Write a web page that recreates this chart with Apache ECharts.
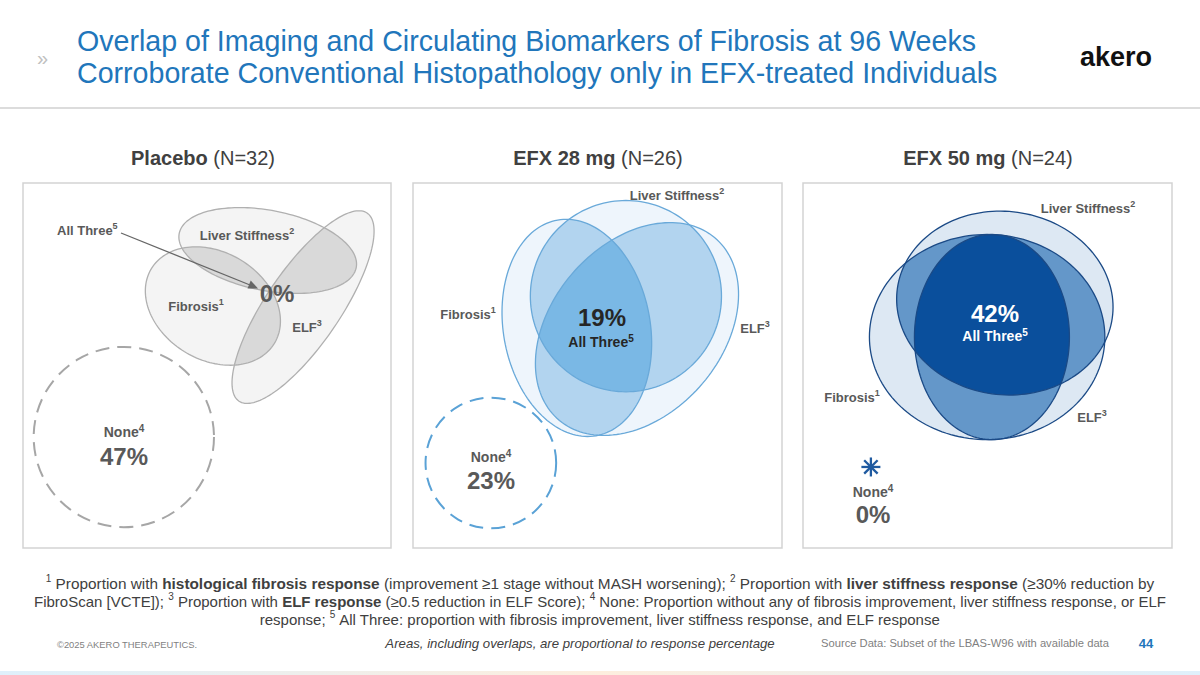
<!DOCTYPE html>
<html><head><meta charset="utf-8">
<script src="https://cdn.jsdelivr.net/npm/echarts/dist/echarts.min.js"></script>
<style>html,body{margin:0;padding:0;background:#fff}#c{width:1200px;height:675px}</style>
</head><body><div id="c"></div>
<script>
// ---------- data ----------
const categories = ['Placebo', 'EFX 28 mg', 'EFX 50 mg'];
const sampleN = [32, 26, 24];
const allThreePct = [0, 19, 42];
const nonePct = [47, 23, 0];
const setLabels = ['Fibrosis', 'Liver Stiffness', 'ELF'];
const setNotes = ['1', '2', '3'];

// ---------- ellipse layout per panel (panel units 0-100): [cx, cy, semiA, semiB, rotationDeg] ----------
const fibrosisShape  = [[51.6, 66.3, 19.6, 14.7, -32], [44.4, 60.3, 19.9, 30.0, 10], [49.9, 57.8, 31.9, 28.1, 0]];
const stiffnessShape = [[66.5, 81.5, 24.5, 11.0, -11], [57.7, 69.0, 25.9, 26.2, 0],  [54.7, 67.1, 29.4, 25.1, -8]];
const elfShape       = [[76.1, 66.0, 31.1, 10.1, 56],  [60.7, 60.0, 32.7, 23.2, 50], [51.2, 57.8, 21.0, 28.1, 0]];
const noneShape      = [[27.4, 30.4, 24.5], [21.1, 23.3, 17.7], [18.4, 22.2, 0]];

const FONT = '"Liberation Sans", Arial, sans-serif';
const palette = {
  single: ['#f4f4f4', '#eef5fc', '#dde8f3'],
  pair:   ['#d9d9d9', '#b2d4ef', '#6497c9'],
  triple: ['#d9d9d9', '#7ab8e5', '#0a4f9c'],
  stroke: ['#b0b0b0', '#69a9d9', '#1b4a86'],
  none:   ['#a6a6a6', '#5aa2d6', '#1f5aa0']
};
const gridBoxes = [[23, 183, 368, 365], [413, 183, 369, 365], [803, 183, 369, 365]];

function ellipsePts(e, n) {
  n = n || 160;
  const [cx, cy, a, b, rot] = e;
  const t = rot * Math.PI / 180, ct = Math.cos(t), st = Math.sin(t);
  const pts = [];
  for (let i = 0; i < n; i++) {
    const g = 2 * Math.PI * i / n;
    const x = a * Math.cos(g), y = b * Math.sin(g);
    pts.push([cx + x * ct - y * st, cy + x * st + y * ct]);
  }
  return pts;
}
function clipPoly(subject, clipper) {
  let out = subject;
  for (let i = 0; i < clipper.length; i++) {
    const A = clipper[i], B = clipper[(i + 1) % clipper.length];
    const inp = out; out = [];
    if (!inp.length) break;
    const inside = P => (B[0] - A[0]) * (P[1] - A[1]) - (B[1] - A[1]) * (P[0] - A[0]) >= 0;
    const inter = (P, Q) => {
      const a1 = B[1] - A[1], b1 = A[0] - B[0], c1 = a1 * A[0] + b1 * A[1];
      const a2 = Q[1] - P[1], b2 = P[0] - Q[0], c2 = a2 * P[0] + b2 * P[1];
      const det = a1 * b2 - a2 * b1;
      return [(b2 * c1 - b1 * c2) / det, (a1 * c2 - a2 * c1) / det];
    };
    for (let k = 0; k < inp.length; k++) {
      const P = inp[k], Q = inp[(k + 1) % inp.length];
      const pin = inside(P), qin = inside(Q);
      if (qin) { if (!pin) out.push(inter(P, Q)); out.push(Q); }
      else if (pin) out.push(inter(P, Q));
    }
  }
  return out;
}

const grids = [], xAxes = [], yAxes = [], series = [];
for (let p = 0; p < 3; p++) {
  const [l, t, w, h] = gridBoxes[p];
  grids.push({left: l, top: t, width: w, height: h, show: true, borderColor: '#d3d3d3', borderWidth: 1.5, backgroundColor: 'rgba(0,0,0,0)'});
  xAxes.push({gridIndex: p, type: 'value', min: 0, max: 100, show: false});
  yAxes.push({gridIndex: p, type: 'value', min: 0, max: 100, show: false});
  const shapes = [fibrosisShape[p], stiffnessShape[p], elfShape[p]];
  const polys = shapes.map(s => ellipsePts(s));
  const common = {type: 'custom', coordinateSystem: 'cartesian2d', xAxisIndex: p, yAxisIndex: p, silent: true, animation: false, clip: false};
  const toPx = (api, pts) => pts.map(q => api.coord(q));
  series.push(Object.assign({}, common, {
    z: 2, data: shapes,
    renderItem: (params, api) => ({type: 'polygon', shape: {points: toPx(api, polys[params.dataIndex])}, style: {fill: palette.single[p]}})
  }));
  const pairs = [[0, 1], [0, 2], [1, 2]];
  series.push(Object.assign({}, common, {
    z: 3, data: pairs,
    renderItem: (params, api) => {
      const [i, j] = pairs[params.dataIndex];
      const inter = clipPoly(polys[i], polys[j]);
      if (inter.length < 3) return {type: 'group', children: []};
      return {type: 'polygon', shape: {points: toPx(api, inter)}, style: {fill: palette.pair[p]}};
    }
  }));
  series.push(Object.assign({}, common, {
    z: 4, data: [[0, 1, 2]],
    renderItem: (params, api) => {
      const inter = clipPoly(clipPoly(polys[0], polys[1]), polys[2]);
      if (inter.length < 3) return {type: 'group', children: []};
      return {type: 'polygon', shape: {points: toPx(api, inter)}, style: {fill: palette.triple[p]}};
    }
  }));
  series.push(Object.assign({}, common, {
    z: 5, data: shapes,
    renderItem: (params, api) => ({type: 'polygon', shape: {points: toPx(api, polys[params.dataIndex])}, style: {fill: 'none', stroke: palette.stroke[p], lineWidth: 1.3}})
  }));
  // "None" marker: dashed circle sized by layout, asterisk when 0%
  series.push(Object.assign({}, common, {
    z: 5, data: [noneShape[p]],
    renderItem: (params, api) => {
      const s = noneShape[p];
      const c = api.coord([s[0], s[1]]);
      if (nonePct[p] > 0) {
        const r = api.size([s[2], 0])[0];
        return {type: 'circle', shape: {cx: c[0], cy: c[1], r: r}, style: {fill: 'none', stroke: palette.none[p], lineWidth: 2, lineDash: [14, 8]}};
      }
      const ch = [];
      for (let k = 0; k < 4; k++) {
        const a = k * Math.PI / 4, L = 9.5;
        ch.push({type: 'line', shape: {x1: c[0] - L * Math.cos(a), y1: c[1] - L * Math.sin(a), x2: c[0] + L * Math.cos(a), y2: c[1] + L * Math.sin(a)}, style: {stroke: palette.none[p], lineWidth: 2.3}});
      }
      return {type: 'group', children: ch};
    }
  }));
}

// ---------- text helpers ----------
const G = '#595959';
function txt(x, y, text, o) {
  o = o || {};
  return {type: 'text', x: x, y: y, z: 20, silent: true, style: Object.assign({
    text: text, fill: o.fill || G, font: (o.style || '') + ' ' + (o.weight || 'normal') + ' ' + (o.size || 13) + 'px ' + FONT,
    textAlign: o.align || 'center', textVerticalAlign: 'middle'
  }, o.extra || {})};
}
function supLabel(x, y, name, note, o) {
  o = o || {};
  const fill = o.fill || G, size = o.size || 13;
  return {type: 'text', x: x, y: y, z: 20, silent: true, style: {
    text: '{m|' + name + '}{s|' + note + '}', textAlign: o.align || 'center', textVerticalAlign: 'middle',
    rich: {
      m: {fill: fill, fontSize: size, fontWeight: 'bold', fontFamily: FONT, lineHeight: size + 4},
      s: {fill: fill, fontSize: Math.round(size * 0.68), fontWeight: 'bold', fontFamily: FONT, verticalAlign: 'top', lineHeight: size + 4}
    }
  }};
}
function footLine(y, text, size) {
  return {type: 'text', x: 600, y: y, z: 20, silent: true, style: {
    text: text, textAlign: 'center', textVerticalAlign: 'middle',
    rich: {
      n: {fill: '#404040', fontSize: size, fontFamily: FONT, lineHeight: 19},
      b: {fill: '#404040', fontSize: size, fontWeight: 'bold', fontFamily: FONT, lineHeight: 19},
      s: {fill: '#404040', fontSize: 10, fontFamily: FONT, verticalAlign: 'top', lineHeight: 19}
    }
  }};
}

const headX = [203, 598, 988];
const elements = [
  // title
  txt(37, 58, '»', {fill: '#c0c0c0', size: 20, align: 'left'}),
  txt(77, 41, 'Overlap of Imaging and Circulating Biomarkers of Fibrosis at 96 Weeks', {fill: '#2176bb', size: 28.6, align: 'left'}),
  txt(77, 73, 'Corroborate Conventional Histopathology only in EFX-treated Individuals', {fill: '#2176bb', size: 28.6, align: 'left'}),
  txt(1116, 57, 'akero', {fill: '#111111', size: 27, weight: 'bold'}),
  {type: 'rect', z: 1, silent: true, shape: {x: 0, y: 107, width: 1200, height: 2}, style: {fill: '#dcdcdc'}},
  {type: 'rect', z: 1, silent: true, shape: {x: 0, y: 671, width: 1200, height: 4}, style: {fill: {type: 'linear', x: 0, y: 0, x2: 1, y2: 0, colorStops: [{offset: 0, color: '#dff0fb'}, {offset: 0.5, color: '#fdeede'}, {offset: 1, color: '#dff0fb'}]}}},
  // footnotes
  footLine(583, '{s|1}{n| Proportion with }{b|histological fibrosis response}{n| (improvement ≥1 stage without MASH worsening); }{s|2}{n| Proportion with }{b|liver stiffness response}{n| (≥30% reduction by}', 15.35),
  footLine(601, '{n|FibroScan [VCTE]); }{s|3}{n| Proportion with }{b|ELF response}{n| (≥0.5 reduction in ELF Score); }{s|4}{n| None: Proportion without any of fibrosis improvement, liver stiffness response, or ELF}', 15),
  footLine(619, '{n|response; }{s|5}{n| All Three: proportion with fibrosis improvement, liver stiffness response, and ELF response}', 15),
  txt(57, 644, '©2025 AKERO THERAPEUTICS.', {fill: '#7f7f7f', size: 9.4, align: 'left'}),
  txt(580, 643, 'Areas, including overlaps, are proportional to response percentage', {fill: '#404040', size: 13.2, style: 'italic'}),
  txt(821, 643, 'Source Data: Subset of the LBAS-W96 with available data', {fill: '#7f7f7f', size: 11.2, align: 'left'}),
  txt(1146, 643, '44', {fill: '#2176bb', size: 13, weight: 'bold'}),
  // arrow for All Three (placebo)
  {type: 'line', z: 21, silent: true, shape: {x1: 121, y1: 233, x2: 250, y2: 285}, style: {stroke: '#666666', lineWidth: 1.3}},
  {type: 'polygon', z: 21, silent: true, shape: {points: [[258, 288.5], [247.5, 288.6], [250.7, 280.4]]}, style: {fill: '#666666'}}
];
// panel headings
for (let p = 0; p < 3; p++) {
  elements.push({type: 'text', x: headX[p], y: 158, z: 20, silent: true, style: {
    text: '{b|' + categories[p] + '}{n| (N=' + sampleN[p] + ')}', textAlign: 'center', textVerticalAlign: 'middle',
    rich: {b: {fill: '#404040', fontSize: 20, fontWeight: 'bold', fontFamily: FONT}, n: {fill: '#404040', fontSize: 20, fontFamily: FONT}}
  }});
}
// set labels (px positions per panel): Fibrosis, Liver Stiffness, ELF
const labelPos = [
  [[196, 306], [247, 235], [307, 327]],
  [[468, 314], [677, 195], [755, 328]],
  [[852, 397], [1088, 208], [1092, 417]]
];
for (let p = 0; p < 3; p++) for (let k = 0; k < 3; k++)
  elements.push(supLabel(labelPos[p][k][0], labelPos[p][k][1], setLabels[k], setNotes[k]));
// All three labels / values
elements.push(supLabel(57, 230, 'All Three', '5', {align: 'left'}));
elements.push(txt(277, 293, allThreePct[0] + '%', {size: 24, weight: 'bold', fill: G}));
elements.push(txt(602, 317, allThreePct[1] + '%', {size: 24, weight: 'bold', fill: '#262626'}));
elements.push(supLabel(601, 342, 'All Three', '5', {fill: '#262626', size: 14}));
elements.push(txt(995, 313, allThreePct[2] + '%', {size: 24, weight: 'bold', fill: '#ffffff'}));
elements.push(supLabel(995, 336, 'All Three', '5', {fill: '#ffffff', size: 14}));
// None labels
const nonePos = [[124, 432, 456], [491, 457, 480], [873, 492, 514]];
for (let p = 0; p < 3; p++) {
  elements.push(supLabel(nonePos[p][0], nonePos[p][1], 'None', '4', {size: 14}));
  elements.push(txt(nonePos[p][0], nonePos[p][2], nonePct[p] + '%', {size: 24, weight: 'bold', fill: G}));
}

const chart = echarts.init(document.getElementById('c'), null, {renderer: 'svg'});
chart.setOption({
  animation: false,
  backgroundColor: '#ffffff',
  grid: grids, xAxis: xAxes, yAxis: yAxes,
  series: series,
  graphic: {elements: elements}
});
</script></body></html>
